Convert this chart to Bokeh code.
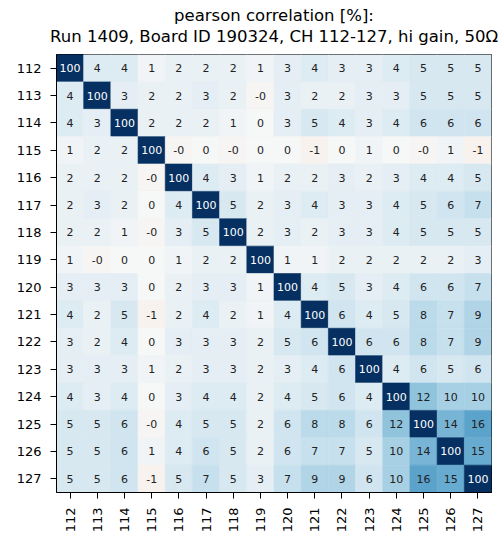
import numpy as np
from bokeh.plotting import figure
from bokeh.models import ColumnDataSource, LinearColorMapper, Title, FactorRange
from bokeh.transform import transform
from bokeh.core.properties import value
from bokeh.embed import file_html
from bokeh.resources import INLINE

channels = [str(c) for c in range(112, 128)]

# pearson correlation [%]; "-0" cells are small negatives
row_112 = [100, 4, 4, 1, 2, 2, 2, 1, 3, 4, 3, 3, 4, 5, 5, 5]
row_113 = [4, 100, 3, 2, 2, 3, 2, -0.3, 3, 2, 2, 3, 3, 5, 5, 5]
row_114 = [4, 3, 100, 2, 2, 2, 1, 0, 3, 5, 4, 3, 4, 6, 6, 6]
row_115 = [1, 2, 2, 100, -0.3, 0, -0.3, 0, 0, -1, 0, 1, 0, -0.3, 1, -1]
row_116 = [2, 2, 2, -0.3, 100, 4, 3, 1, 2, 2, 3, 2, 3, 4, 4, 5]
row_117 = [2, 3, 2, 0, 4, 100, 5, 2, 3, 4, 3, 3, 4, 5, 6, 7]
row_118 = [2, 2, 1, -0.3, 3, 5, 100, 2, 3, 2, 3, 3, 4, 5, 5, 5]
row_119 = [1, -0.3, 0, 0, 1, 2, 2, 100, 1, 1, 2, 2, 2, 2, 2, 3]
row_120 = [3, 3, 3, 0, 2, 3, 3, 1, 100, 4, 5, 3, 4, 6, 6, 7]
row_121 = [4, 2, 5, -1, 2, 4, 2, 1, 4, 100, 6, 4, 5, 8, 7, 9]
row_122 = [3, 2, 4, 0, 3, 3, 3, 2, 5, 6, 100, 6, 6, 8, 7, 9]
row_123 = [3, 3, 3, 1, 2, 3, 3, 2, 3, 4, 6, 100, 4, 6, 5, 6]
row_124 = [4, 3, 4, 0, 3, 4, 4, 2, 4, 5, 6, 4, 100, 12, 10, 10]
row_125 = [5, 5, 6, -0.3, 4, 5, 5, 2, 6, 8, 8, 6, 12, 100, 14, 16]
row_126 = [5, 5, 6, 1, 4, 6, 5, 2, 6, 7, 7, 5, 10, 14, 100, 15]
row_127 = [5, 5, 6, -1, 5, 7, 5, 3, 7, 9, 9, 6, 10, 16, 15, 100]

rows = [row_112, row_113, row_114, row_115, row_116, row_117, row_118, row_119,
        row_120, row_121, row_122, row_123, row_124, row_125, row_126, row_127]

title_line1 = "pearson correlation [%]:"
title_line2 = "Run 1409, Board ID 190324, CH 112-127, hi gain, 50\u03a9"

# matplotlib-like RdBu colormap
anchors = ["#67001f", "#b2182b", "#d6604d", "#f4a582", "#fddbc7", "#f7f7f7",
           "#d1e5f0", "#92c5de", "#4393c3", "#2166ac", "#053061"]
arr = np.array([[int(h[i:i + 2], 16) for i in (1, 3, 5)] for h in anchors], float)
palette = []
for i in range(256):
    t = i / 255 * 10
    k = min(int(t), 9)
    f = t - k
    c = arr[k] * (1 - f) + arr[k + 1] * f
    palette.append("#%02x%02x%02x" % tuple(int(round(v)) for v in c))
mapper = LinearColorMapper(palette=palette, low=-30, high=30)

xs, ys, vs, labels, tcs = [], [], [], [], []
for r, row in enumerate(rows):
    for c, v in enumerate(row):
        xs.append(channels[c])
        ys.append(channels[r])
        vs.append(v)
        labels.append(f"{v:.0f}")
        tcs.append("white" if v > 50 else "#222222")
src = ColumnDataSource(dict(x=xs, y=ys, v=vs, label=labels, tc=tcs))

p = figure(width=498, height=535,
           x_range=FactorRange(factors=channels),
           y_range=FactorRange(factors=channels[::-1]),
           output_backend="svg", toolbar_location=None,
           min_border_left=56, min_border_right=7, min_border_top=54, min_border_bottom=43)

p.rect(x="x", y="y", width=1, height=1, source=src,
       fill_color=transform("v", mapper), line_color=transform("v", mapper), line_width=0.6)
p.text(x="x", y="y", text="label", source=src, text_color="tc",
       text_align="center", text_baseline="middle",
       text_font=value("DejaVu Sans"), text_font_size="11px")

p.title.text = title_line1
p.title.align = "center"
p.title.text_font = "DejaVu Sans"
p.title.text_font_size = "16.5px"
p.title.text_font_style = "normal"
p.title.text_color = "black"
p.title.standoff = 0
# near-invisible spacer between the subtitle and the frame (added first = innermost)
p.add_layout(Title(text=" ", standoff=6, text_font_size="1px", text_color="white"), "above")
p.add_layout(Title(text=title_line2, align="center", text_font="DejaVu Sans",
                   text_font_size="16.5px", text_font_style="normal", text_color="black",
                   standoff=0), "above")

p.grid.visible = False
p.outline_line_color = "black"
p.outline_line_width = 1
p.axis.axis_line_color = "black"
p.axis.major_tick_in = 0
p.axis.major_tick_out = 6
p.axis.major_tick_line_color = "black"
p.axis.major_label_text_font = "DejaVu Sans"
p.axis.major_label_text_font_size = "13px"
p.axis.major_label_text_color = "black"
p.axis.major_label_standoff = 9
p.xaxis.major_label_orientation = np.pi / 2

open("out.html", "w").write(file_html(p, INLINE))
